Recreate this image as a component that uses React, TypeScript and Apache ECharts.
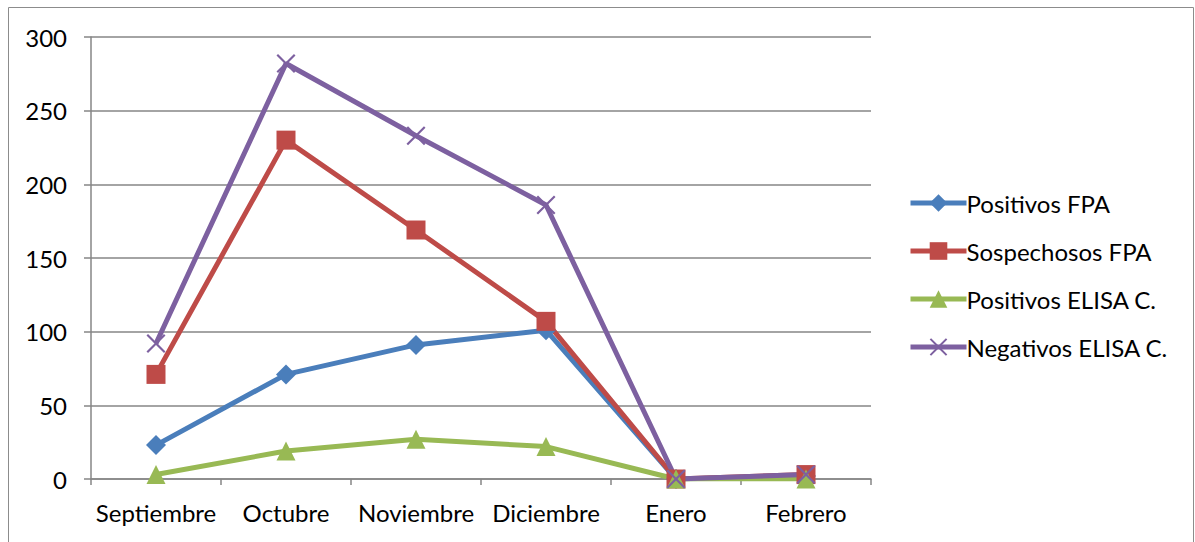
import React, { useEffect, useRef } from "react";
import * as echarts from "echarts";

const categories = ["Septiembre", "Octubre", "Noviembre", "Diciembre", "Enero", "Febrero"];
const positivosFPA = [23, 71, 91, 101, 0, 2];
const sospechososFPA = [71, 230, 169, 107, 0, 3];
const positivosELISA = [3, 19, 27, 22, 0, 0];
const negativosELISA = [92, 282, 233, 186, 0, 3];
const yTicks = [0, 50, 100, 150, 200, 250, 300];

const X_PATH =
  "path://M0,1.6 L1.6,0 L10,8.4 L18.4,0 L20,1.6 L11.6,10 L20,18.4 L18.4,20 L10,11.6 L1.6,20 L0,18.4 L8.4,10 Z";

const FONT = "Lato";

export default function App() {
  const ref = useRef<HTMLDivElement>(null);
  useEffect(() => {
    if (!ref.current) return;
    const chart = echarts.init(ref.current, undefined, { renderer: "svg" });
    const mk = (name: string, data: number[], color: string, symbol: string, size: number) => ({
      name,
      type: "line",
      data,
      symbol,
      symbolSize: size,
      showAllSymbol: true,
      lineStyle: { color, width: 5 },
      itemStyle: { color },
      emphasis: { disabled: true },
    });
    chart.setOption({
      animation: false,
      textStyle: { fontFamily: FONT },
      graphic: [
        {
          type: "rect",
          shape: { x: 8.5, y: 7.5, width: 1185, height: 545 },
          style: { fill: "none", stroke: "#8c8c8c", lineWidth: 1 },
          silent: true,
        },
      ],
      grid: { left: 91, right: 324, top: 37, bottom: 63, containLabel: false },
      legend: {
        orient: "vertical",
        left: 903,
        top: 186,
        itemWidth: 56,
        itemHeight: 22,
        itemGap: 24,
        lineStyle: { width: 5 },
        textStyle: { fontFamily: FONT, fontSize: 24, color: "#000", padding: [0, 0, 0, -5] },
        data: ["Positivos FPA", "Sospechosos FPA", "Positivos ELISA C.", "Negativos ELISA C."],
      },
      xAxis: {
        type: "category",
        data: categories,
        boundaryGap: true,
        axisLine: { lineStyle: { color: "#868686", width: 1.5 } },
        axisTick: { show: true, length: 6, interval: 0, lineStyle: { color: "#868686", width: 1.5 } },
        axisLabel: { fontFamily: FONT, fontSize: 24, color: "#000", margin: 21, interval: 0 },
      },
      yAxis: {
        type: "value",
        min: 0,
        max: 300,
        interval: 50,
        axisLine: { show: true, lineStyle: { color: "#868686", width: 1.5 } },
        axisTick: { show: true, length: 7, lineStyle: { color: "#868686", width: 1.5 } },
        axisLabel: {
          fontFamily: FONT,
          fontSize: 24,
          color: "#000",
          margin: 24,
          formatter: (v: number) => (yTicks.includes(v) ? String(v) : ""),
        },
        splitLine: { lineStyle: { color: "#868686", width: 1.5 } },
      },
      series: [
        mk("Positivos FPA", positivosFPA, "#4a7ebb", "diamond", 20),
        mk("Sospechosos FPA", sospechososFPA, "#be4b48", "rect", 19),
        mk("Positivos ELISA C.", positivosELISA, "#98b954", "triangle", 19),
        mk("Negativos ELISA C.", negativosELISA, "#7d60a0", X_PATH, 19),
      ],
    });
    return () => chart.dispose();
  }, []);
  return (
    <div
      ref={ref}
      style={{ position: "absolute", left: 0, top: 0, width: 1195, height: 542, background: "#fff" }}
    />
  );
}
